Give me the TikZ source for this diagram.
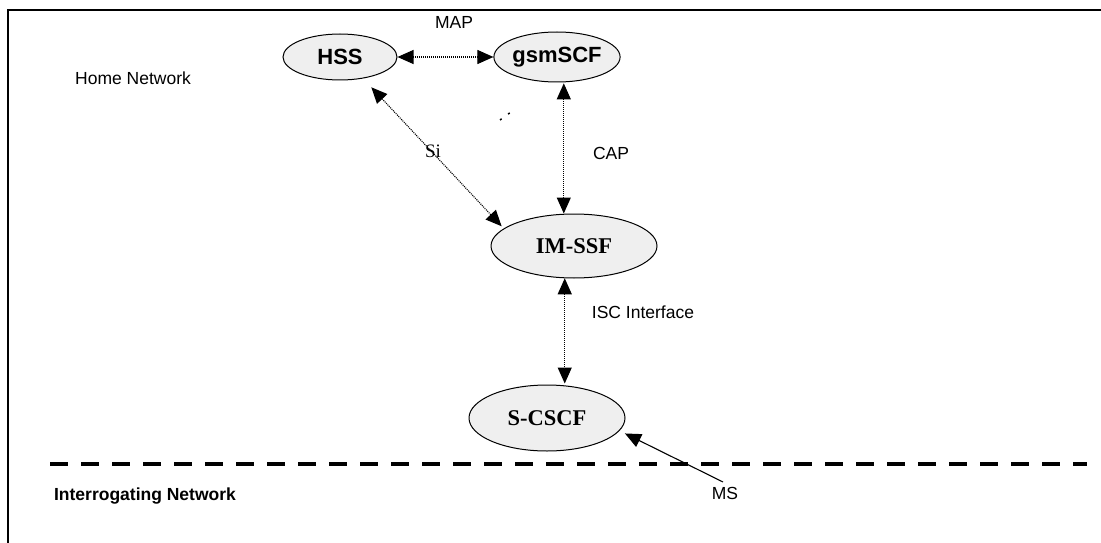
\documentclass[tikz,border=0pt]{standalone}
\usepackage{fontspec}
\setmainfont{Liberation Serif}
\setsansfont{Liberation Sans}
\usepackage{xcolor}
\usepackage{tikz}
\usetikzlibrary{calc,arrows.meta,shapes.geometric}
\definecolor{ink}{HTML}{000000}
\definecolor{shade}{HTML}{EFEFEF}
\tikzset{
  ent/.style={ellipse, draw=ink, fill=shade, line width=1pt, inner sep=0pt},
  entsf/.style={ent, font=\sffamily\bfseries\fontsize{22}{24}\selectfont},
  entrm/.style={ent, font=\rmfamily\bfseries\fontsize{22.5}{24}\selectfont},
  link/.style={draw=ink, line width=1.1pt, dash pattern=on 1pt off 1pt, {Triangle[length=16pt,width=14pt]}-{Triangle[length=16pt,width=14pt]}},
  solidlink/.style={draw=ink, line width=1.1pt, -{Triangle[length=16pt,width=14pt]}},
  lab/.style={text=ink, inner sep=0pt, font=\sffamily\fontsize{17.5}{20}\selectfont},
  labb/.style={lab, font=\sffamily\bfseries\fontsize{17.5}{20}\selectfont},
  labr/.style={text=ink, inner sep=0pt, font=\rmfamily\fontsize{19}{22}\selectfont},
  frame/.style={draw=ink, line width=2pt},
  split/.style={draw=ink, line width=4.5pt, dash pattern=on 18pt off 13pt},
}

\begin{document}
\begin{tikzpicture}[x=1pt,y=-1pt]
  \useasboundingbox (0,0) rectangle (1101,543);
  \draw[frame] (8,543) -- (8,10) -- (1101,10);
  \draw[split] (50,464) -- (1087,464);
  \node[entsf, minimum width=114pt, minimum height=46pt] (hss) at (340,57) {HSS};
  \node[entsf, minimum width=98pt, minimum height=50pt] (gsmscf) at (557,57) {gsmSCF};
  \node[entrm, minimum width=166pt, minimum height=64pt] (imssf) at (574,246) {IM-SSF};
  \node[entrm, minimum width=156pt, minimum height=66pt] (cscf) at (547,418) {S-CSCF};
  \coordinate (msend) at (723,482);
  \draw[link] (hss.east) -- (gsmscf.west);
  \draw[link, shorten <=12pt, shorten >=3pt] (hss.-43) -- (imssf.166);
  \draw[link, shorten <=1pt] (gsmscf.-75) -- (gsmscf.-75 |- imssf.north);
  \draw[link, shorten >=1pt] (imssf.-106) -- (imssf.-106 |- cscf.north);
  \draw[solidlink, shorten >=6pt] (msend) -- (cscf.-10);
  \draw[draw=ink, line width=1.5pt, dash pattern=on 2pt off 8pt] (500,120) -- (511,112);
  \node[lab] (map) at (454,22) {MAP};
  \node[lab] (home) at (133,78) {Home Network};
  \node[labr] (si) at (433,151) {Si};
  \node[lab] (cap) at (611,153) {CAP};
  \node[lab] (isc) at (643,312) {ISC Interface};
  \node[lab] (ms) at (725,493) {MS};
  \node[labb] (inter) at (145,496) {Interrogating Network};
\end{tikzpicture}
\end{document}
